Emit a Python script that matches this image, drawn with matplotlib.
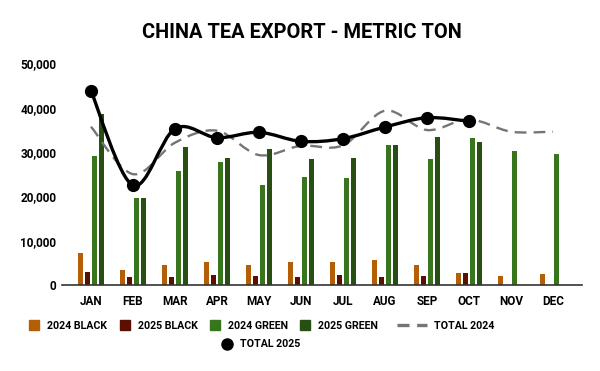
import numpy as np
import matplotlib
matplotlib.use("Agg")
import matplotlib.pyplot as plt
from matplotlib.path import Path
from matplotlib.patches import PathPatch
from matplotlib.lines import Line2D

plt.rcParams['font.family'] = ['Roboto', 'DejaVu Sans']
plt.rcParams['font.weight'] = 'bold'

months = ["JAN", "FEB", "MAR", "APR", "MAY", "JUN", "JUL", "AUG", "SEP", "OCT", "NOV", "DEC"]
black_2024 = [7140, 3310, 4430, 5110, 4510, 5110, 5110, 5560, 4510, 2630, 1950, 2410]
black_2025 = [2860, 1730, 1730, 2180, 1950, 1730, 2260, 1730, 1950, 2630, None, None]
green_2024 = [29020, 19550, 25710, 27670, 22480, 24280, 24060, 31500, 28340, 33080, 30140, 29470]
green_2025 = [38490, 19550, 31050, 28570, 30600, 28340, 28570, 31500, 33300, 32170, None, None]
total_2024 = [35700, 25000, 32100, 34800, 29300, 31400, 31500, 39300, 34950, 37350, 34580, 34580]
total_2025 = [43750, 22480, 35250, 33220, 34430, 32400, 33000, 35630, 37730, 36920]

c_b24 = "#b45f06"
c_b25 = "#5b0f00"
c_g24 = "#38761d"
c_g25 = "#274e13"
c_t24 = "#757575"
c_t25 = "#000000"


def smooth(ax, xs, ys, **kw):
    # catmull-rom style bezier through the points
    pts = np.column_stack([xs, ys]).astype(float)
    n = len(pts)
    verts = [pts[0]]
    codes = [Path.MOVETO]
    for i in range(n - 1):
        p0 = pts[max(i - 1, 0)]
        p1 = pts[i]
        p2 = pts[i + 1]
        p3 = pts[min(i + 2, n - 1)]
        c1 = p1 + (p2 - p0) / 6.0
        c2 = p2 - (p3 - p1) / 6.0
        verts += [c1, c2, p2]
        codes += [Path.CURVE4] * 3
    patch = PathPatch(Path(verts, codes), fill=False, **kw)
    ax.add_patch(patch)
    return patch


fig = plt.figure(figsize=(6, 3.71), dpi=100)
ax = fig.add_axes([62 / 600, 1 - 285 / 371, 520 / 600, (285 - 63.3) / 371])

x = np.arange(len(months))
w = 0.12
series = [(black_2024, c_b24, -0.25), (black_2025, c_b25, -0.0833),
          (green_2024, c_g24, 0.0833), (green_2025, c_g25, 0.25)]
for vals, col, off in series:
    xs = [xi + off for xi, v in zip(x, vals) if v is not None]
    vs = [v for v in vals if v is not None]
    ax.bar(xs, vs, width=w, color=col, zorder=2)

smooth(ax, x, total_2024, edgecolor=c_t24, lw=1.7, linestyle=(0, (5, 3)), zorder=3)
smooth(ax, x[:len(total_2025)], total_2025, edgecolor=c_t25, lw=2.4, zorder=4)
ax.plot(x[:len(total_2025)], total_2025, 'o', color=c_t25, ms=8.5, zorder=5)

ax.set_xlim(-0.69, 11.69)
ax.set_ylim(0, 50000)
ax.set_xticks(x)
ax.set_xticklabels(months)
ax.set_yticks(range(0, 50001, 10000))
ax.set_yticklabels([f"{v:,}" for v in range(0, 50001, 10000)])
ax.tick_params(axis='both', length=0, labelsize=8.5, colors="#000000")
ax.tick_params(axis='x', pad=7)
ax.tick_params(axis='y', pad=4)
for s in ["top", "right", "left"]:
    ax.spines[s].set_visible(False)
ax.spines["bottom"].set_color("#333333")
ax.spines["bottom"].set_linewidth(1.2)

fig.text(0.503, 1 - 32 / 371, "CHINA TEA EXPORT - METRIC TON", ha="center", va="center",
         fontsize=14.4, fontweight="bold")

fs = 7.7
sq = dict(marker='s', linestyle='None', markersize=7.3)
h_bars = [Line2D([], [], color=c_b24, **sq), Line2D([], [], color=c_b25, **sq),
          Line2D([], [], color=c_g24, **sq), Line2D([], [], color=c_g25, **sq)]
leg1 = fig.legend(h_bars, ["2024 BLACK", "2025 BLACK", "2024 GREEN", "2025 GREEN"],
                  loc="center left", bbox_to_anchor=(29 / 600, 1 - 325.7 / 371), ncol=4,
                  frameon=False, fontsize=fs, handlelength=0.95, handletextpad=0.75,
                  columnspacing=1.15, borderpad=0, borderaxespad=0)
leg2 = fig.legend([Line2D([], [], color=c_t24, lw=2.4, linestyle=(0, (3.6, 2.3)),
                          solid_capstyle='butt', dash_capstyle='butt')], ["TOTAL 2024"],
                  loc="center left", bbox_to_anchor=(397 / 600, 1 - 325.7 / 371),
                  frameon=False, fontsize=fs, handlelength=2.8, handletextpad=0.7,
                  borderpad=0, borderaxespad=0)
leg3 = fig.legend([Line2D([], [], color=c_t25, marker='o', linestyle='None', markersize=8)], ["TOTAL 2025"],
                  loc="center left", bbox_to_anchor=(222 / 600, 1 - 344.3 / 371),
                  frameon=False, fontsize=fs, handlelength=0.95, handletextpad=0.75,
                  borderpad=0, borderaxespad=0)

fig.savefig("out.png", dpi=100)
